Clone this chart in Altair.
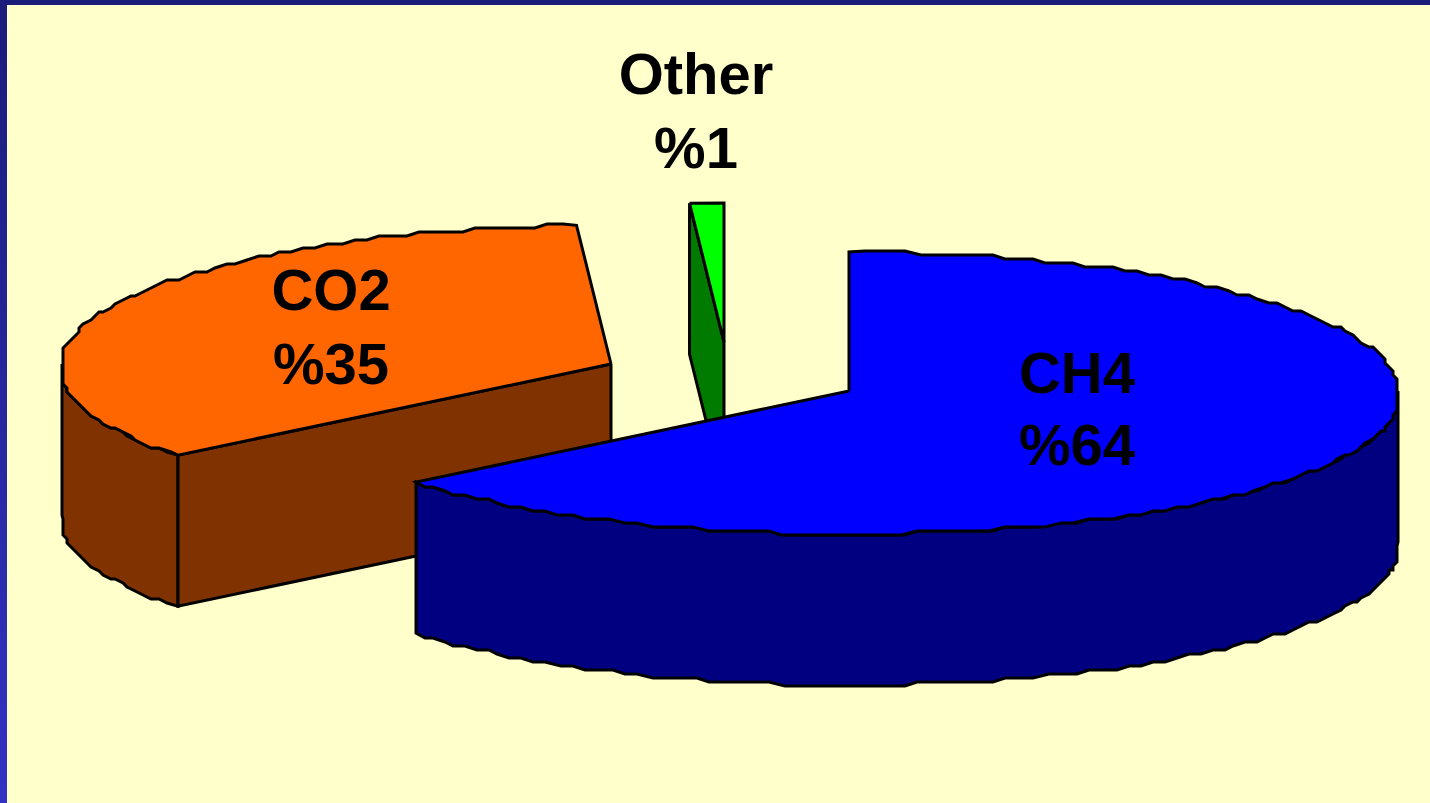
import math
import altair as alt
import pandas as pd

# Pie contents
categories = ["CH4", "CO2", "Other"]
shares = [64, 35, 1]
label_rows = [["CH4", "%64"], ["CO2", "%35"], ["Other", "%1"]]

# Page and pie palette
PAPER = "#FFFFCC"
BORDER_TOP = "#1B1B7B"
TOPS = {"CH4": "#0000FF", "CO2": "#FF6600", "Other": "#00FF00"}
WALLS = {"CH4": "#000080", "CO2": "#803300", "Other": "#007B00"}

W, H = 1430, 803
RX, RY_BACK, RY_FRONT = 549, 139, 143
DEPTH = 151
FRONT_SPREAD = 0.037  # the near half of the disc reads slightly wider
CENTRES = {"CH4": (849, 391), "CO2": (611, 364), "Other": (724, 342)}
LABEL_POS = {"CH4": (1077, 393, 465), "CO2": (331, 310, 384), "Other": (696, 94, 168)}

# Slice angles, clockwise from twelve o'clock
angles = {}
start = 0.0
for name, share in zip(categories, shares):
    angles[name] = (start, start + 360.0 * share / sum(shares))
    start = angles[name][1]


def rim(name, deg, drop=0.0, snap=True):
    cx, cy = CENTRES[name]
    t = math.radians(deg)
    c = math.cos(t)
    spread = 1 + FRONT_SPREAD * max(0.0, -c)
    px = RX * math.sin(t) * spread
    py = -c * (RY_BACK if c > 0 else RY_FRONT)
    if snap:
        # stepped outline, as drawn at low resolution
        px = round(px / 4) * 4
        py = round(py / 4) * 4
    return cx + px, cy + py + drop


def arc(name, a, b, drop=0.0):
    n = max(1, int(abs(b - a) / 1.5))
    return [rim(name, a + (b - a) * i / n, drop, snap=0 < i < n) for i in range(n + 1)]


def apex(name, drop=0.0):
    cx, cy = CENTRES[name]
    return (cx, cy + drop)


rows = []


def add(shape, color, pts):
    pts = list(pts) + [pts[0]]
    for i, (x, y) in enumerate(pts):
        rows.append({"shape": shape, "color": color, "o": i, "x": x, "y": y})


# Other: cut wall, then top
a0, a1 = angles["Other"]
edge = rim("Other", a0, snap=False)
add("other_wall", WALLS["Other"], [edge, apex("Other"), apex("Other", DEPTH),
                                   rim("Other", a0, DEPTH, snap=False)])
add("other_top", TOPS["Other"], [edge, rim("Other", 0.0, snap=False), apex("Other")])

# CO2: rim wall, cut wall, top
a0, a1 = angles["CO2"]
add("co2_rim", WALLS["CO2"], arc("CO2", a0, 270) + arc("CO2", 270, a0, DEPTH))
add("co2_cut", WALLS["CO2"], [apex("CO2"), rim("CO2", a0, snap=False),
                              rim("CO2", a0, DEPTH, snap=False), apex("CO2", DEPTH)])
add("co2_top", TOPS["CO2"], [apex("CO2")] + arc("CO2", a0, a1))

# CH4: rim wall, top
a0, a1 = angles["CH4"]
add("ch4_rim", WALLS["CH4"], arc("CH4", 90, a1) + arc("CH4", a1, 90, DEPTH))
add("ch4_top", TOPS["CH4"], [apex("CH4")] + arc("CH4", a0, a1))

poly = pd.DataFrame(rows)

x_scale = alt.Scale(domain=[0, W], nice=False, zero=False)
y_scale = alt.Scale(domain=[H, 0], nice=False, zero=False)

layers = []
for shape in poly["shape"].unique():
    part = poly[poly["shape"] == shape]
    layers.append(
        alt.Chart(part)
        .mark_line(fill=part["color"].iloc[0], stroke="black", strokeWidth=3,
                   strokeJoin="miter", interpolate="linear")
        .encode(
            x=alt.X("x:Q", scale=x_scale, axis=None),
            y=alt.Y("y:Q", scale=y_scale, axis=None),
            order="o:Q",
        )
    )

# Frame along the top and left edges
frame_top = alt.Chart(pd.DataFrame({"x": [0], "x2": [W], "y": [0], "y2": [5]})).mark_rect(
    color=BORDER_TOP
).encode(
    x=alt.X("x:Q", scale=x_scale, axis=None), x2="x2:Q",
    y=alt.Y("y:Q", scale=y_scale, axis=None), y2="y2:Q",
)
frame_left = alt.Chart(pd.DataFrame({"x": [0], "x2": [7], "y": [0], "y2": [H]})).mark_rect(
    color=alt.LinearGradient(
        gradient="linear", x1=0, x2=0, y1=0, y2=1,
        stops=[alt.GradientStop(offset=0, color="#1B1B7B"),
               alt.GradientStop(offset=1, color="#3232C4")],
    )
).encode(
    x=alt.X("x:Q", scale=x_scale, axis=None), x2="x2:Q",
    y=alt.Y("y:Q", scale=y_scale, axis=None), y2="y2:Q",
)

# Two-line labels: name above, percentage below
text_rows = []
for name, lines in zip(categories, label_rows):
    lx, y1, y2 = LABEL_POS[name]
    text_rows.append({"x": lx, "y": y1, "t": lines[0]})
    text_rows.append({"x": lx, "y": y2, "t": lines[1]})
labels = alt.Chart(pd.DataFrame(text_rows)).mark_text(
    font="Liberation Sans", fontWeight="bold", fontSize=58, color="black",
    align="center", baseline="alphabetic",
).encode(
    x=alt.X("x:Q", scale=x_scale, axis=None),
    y=alt.Y("y:Q", scale=y_scale, axis=None),
    text="t:N",
)

chart = alt.layer(frame_top, frame_left, *layers, labels).properties(
    width=W, height=H, padding=0, background=PAPER,
    autosize=alt.AutoSizeParams(type="none"),
).configure_view(stroke=None)

chart.save("out.html", embed_options={"renderer": "svg", "actions": False})
